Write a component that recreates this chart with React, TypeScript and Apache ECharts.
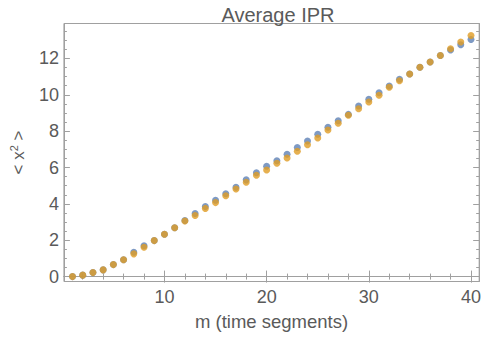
import React, { useEffect, useRef } from "react";
import * as echarts from "echarts";

const mValues = [
  1, 2, 3, 4, 5, 6, 7, 8, 9, 10, 11, 12, 13, 14, 15, 16, 17, 18, 19, 20,
  21, 22, 23, 24, 25, 26, 27, 28, 29, 30, 31, 32, 33, 34, 35, 36, 37, 38, 39, 40,
];
const blueValues = [
  0.0, 0.08, 0.22, 0.37, 0.66, 0.93, 1.34, 1.7, 1.98, 2.33,
  2.69, 3.08, 3.47, 3.85, 4.2, 4.56, 4.91, 5.32, 5.71, 6.07,
  6.37, 6.73, 7.1, 7.46, 7.83, 8.21, 8.57, 8.92, 9.38, 9.75,
  10.11, 10.48, 10.85, 11.14, 11.51, 11.8, 12.16, 12.46, 12.75, 13.04,
];
const orangeValues = [
  0.0, 0.08, 0.22, 0.37, 0.66, 0.93, 1.25, 1.61, 1.98, 2.33,
  2.69, 3.06, 3.36, 3.75, 4.07, 4.45, 4.82, 5.19, 5.57, 5.86,
  6.23, 6.52, 6.89, 7.25, 7.62, 8.06, 8.43, 8.87, 9.23, 9.6,
  9.97, 10.41, 10.77, 11.14, 11.51, 11.8, 12.16, 12.53, 12.9, 13.26,
];
const xMajorTicks = [10, 20, 30, 40];
const xMinorTicks = [2, 4, 6, 8, 12, 14, 16, 18, 22, 24, 26, 28, 32, 34, 36, 38];
const yMajorTicks = [0, 2, 4, 6, 8, 10, 12];
const yMinorTicks = [
  0.5, 1, 1.5, 2.5, 3, 3.5, 4.5, 5, 5.5, 6.5, 7, 7.5, 8.5, 9, 9.5,
  10.5, 11, 11.5, 12.5, 13, 13.5,
];

const X_MIN = 0.16;
const X_MAX = 40.8;
const Y_MIN = -0.27;
const Y_MAX = 13.92;

const FONT = "'Liberation Sans', Arial, sans-serif";
const TEXT = "#5a5a5a";
const FRAME = "#a0a0a0";

function xAxisDef(position: "bottom" | "top", ticks: number[], len: number, labels: boolean, line: boolean) {
  return {
    type: "value",
    position,
    min: X_MIN,
    max: X_MAX,
    axisLine: { show: line, lineStyle: { color: FRAME, width: 1 } },
    axisTick: { show: true, inside: true, length: len, customValues: ticks, lineStyle: { color: FRAME } },
    axisLabel: labels
      ? { show: true, customValues: ticks, margin: 6, fontSize: 18, color: TEXT, fontFamily: FONT }
      : { show: false },
    splitLine: { show: false },
  };
}

function yAxisDef(position: "left" | "right", ticks: number[], len: number, labels: boolean, line: boolean) {
  return {
    type: "value",
    position,
    min: Y_MIN,
    max: Y_MAX,
    axisLine: { show: line, lineStyle: { color: FRAME, width: 1 } },
    axisTick: { show: true, inside: true, length: len, customValues: ticks, lineStyle: { color: FRAME } },
    axisLabel: labels
      ? { show: true, customValues: ticks, margin: 5, fontSize: 18, color: TEXT, fontFamily: FONT }
      : { show: false },
    splitLine: { show: false },
  };
}

export default function App() {
  const ref = useRef<HTMLDivElement>(null);
  useEffect(() => {
    if (!ref.current) return;
    const chart = echarts.init(ref.current, undefined, { renderer: "svg" });
    const xMain: any = xAxisDef("bottom", xMajorTicks, 6, true, true);
    xMain.name = "m (time segments)";
    xMain.nameLocation = "middle";
    xMain.nameGap = 30;
    xMain.nameTextStyle = { fontSize: 18.5, color: TEXT, fontFamily: FONT };
    const yMain: any = yAxisDef("left", yMajorTicks, 6, true, true);
    yMain.name = "< x{sup|2} >";
    yMain.nameLocation = "middle";
    yMain.nameGap = 29;
    yMain.nameRotate = 90;
    yMain.nameTextStyle = {
      fontSize: 17,
      color: TEXT,
      fontFamily: FONT,
      lineHeight: 20,
      rich: {
        sup: { fontSize: 11, color: TEXT, fontFamily: FONT, verticalAlign: "top", lineHeight: 20 },
      },
    };
    chart.setOption({
      animation: false,
      title: {
        text: "Average IPR",
        left: 273,
        textAlign: "center",
        top: 0,
        textStyle: { fontSize: 20, fontWeight: "normal", color: TEXT, fontFamily: FONT },
      },
      grid: {
        left: 63.5,
        right: 1,
        top: 23.5,
        bottom: 57.5,
        show: true,
        borderColor: FRAME,
        borderWidth: 1,
        containLabel: false,
      },
      xAxis: [
        xMain,
        xAxisDef("bottom", xMinorTicks, 3, false, false),
        xAxisDef("top", xMajorTicks, 6, false, true),
        xAxisDef("top", xMinorTicks, 3, false, false),
      ],
      yAxis: [
        yMain,
        yAxisDef("left", yMinorTicks, 3, false, false),
        yAxisDef("right", yMajorTicks, 6, false, true),
        yAxisDef("right", yMinorTicks, 3, false, false),
      ],
      series: [
        {
          type: "scatter",
          xAxisIndex: 0,
          yAxisIndex: 0,
          symbolSize: 7,
          itemStyle: { color: "#5E81B5" },
          data: mValues.map((m, i) => [m, blueValues[i]]),
        },
        {
          type: "scatter",
          xAxisIndex: 0,
          yAxisIndex: 0,
          symbolSize: 7,
          itemStyle: { color: "#E09C24" },
          data: mValues.map((m, i) => [m, orangeValues[i]]),
        },
      ],
    });
    return () => chart.dispose();
  }, []);
  return <div ref={ref} style={{ width: 484, height: 339, position: "absolute", left: 0, top: 0 }} />;
}
